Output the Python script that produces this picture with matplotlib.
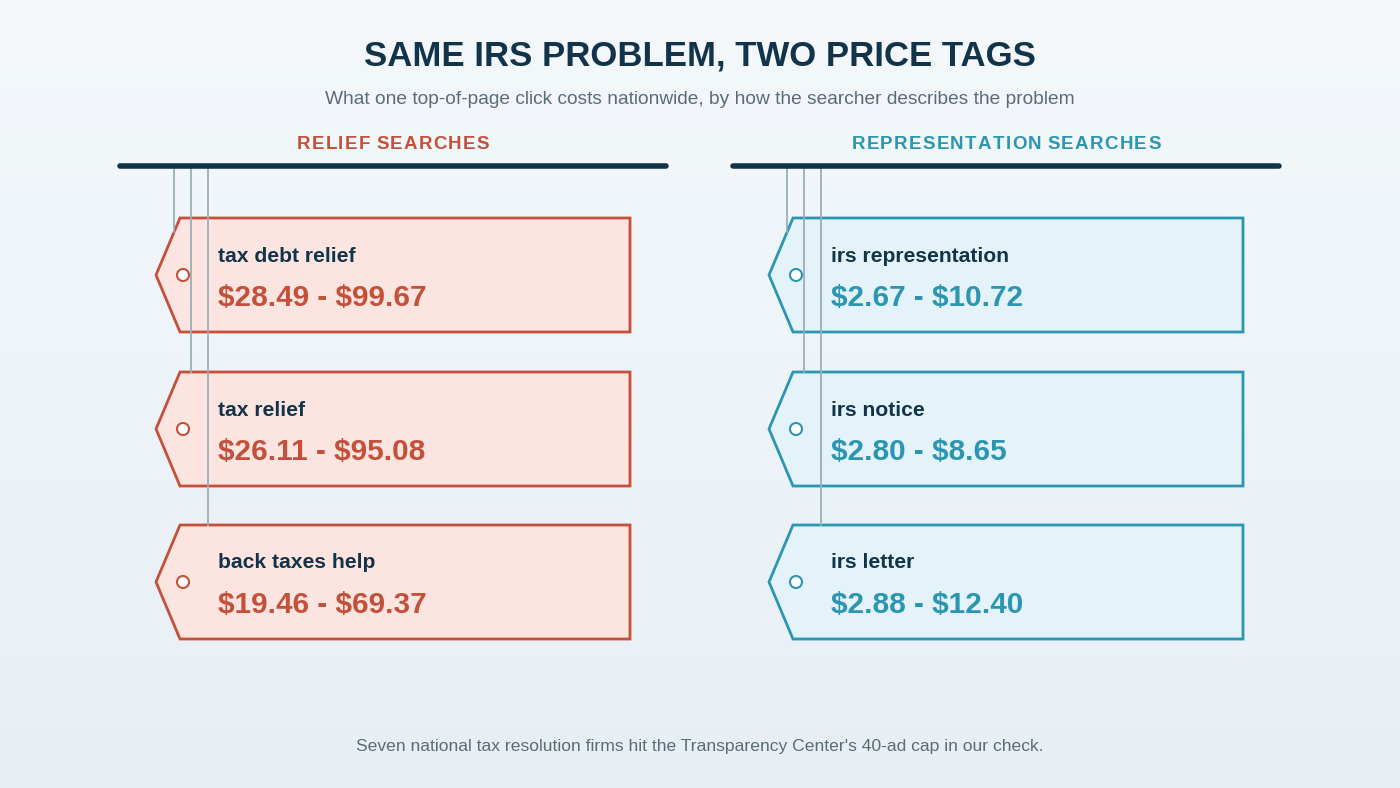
import numpy as np
import matplotlib.pyplot as plt
from matplotlib.patches import Polygon, Circle

plt.rcParams['font.family'] = ['Liberation Sans', 'DejaVu Sans']
plt.rcParams['text.parse_math'] = False

# data
panel_titles = ["RELIEF SEARCHES", "REPRESENTATION SEARCHES"]
relief_terms = ["tax debt relief", "tax relief", "back taxes help"]
relief_low = [28.49, 26.11, 19.46]
relief_high = [99.67, 95.08, 69.37]
rep_terms = ["irs representation", "irs notice", "irs letter"]
rep_low = [2.67, 2.80, 2.88]
rep_high = [10.72, 8.65, 12.40]

navy = '#12344a'
red = '#c4503a'
red_fill = '#fce5e1'
teal = '#2b96b1'
teal_fill = '#e4f3f9'
string_col = '#9aaeb8'

W, H = 1400, 788
fig = plt.figure(figsize=(14, 7.88), dpi=100)
ax = fig.add_axes([0, 0, 1, 1])
ax.set_xlim(0, W)
ax.set_ylim(H, 0)
ax.axis('off')

# soft vertical background gradient
grad = np.linspace(0, 1, 256).reshape(-1, 1)
top = np.array([0xf4, 0xf8, 0xfb]) / 255
bot = np.array([0xe7, 0xef, 0xf5]) / 255
img = top + (bot - top) * grad[..., None]
ax.imshow(img, extent=[0, W, H, 0], aspect='auto', zorder=0)

ax.text(W / 2, 56, "SAME IRS PROBLEM, TWO PRICE TAGS", ha='center', va='center',
        fontsize=25, fontweight='bold', color=navy)
ax.text(W / 2, 99, "What one top-of-page click costs nationwide, by how the searcher describes the problem",
        ha='center', va='center', fontsize=13.8, color='#5b6b76')
ax.text(W / 2, 747, "Seven national tax resolution firms hit the Transparency Center's 40-ad cap in our check.",
        ha='center', va='center', fontsize=12.6, color='#5b6b76')

renderer = fig.canvas.get_renderer()


def spaced_text(xc, y, s, spacing, **kw):
    # measure each character, then lay them out with extra tracking
    widths = []
    for ch in s:
        t = ax.text(0, 0, ch if ch != ' ' else 'I', **kw)
        bb = t.get_window_extent(renderer)
        widths.append(bb.width * (0.7 if ch == ' ' else 1.0))
        t.remove()
    total = sum(widths) + spacing * (len(s) - 1)
    x = xc - total / 2
    for ch, w in zip(s, widths):
        if ch != ' ':
            ax.text(x, y, ch, ha='left', va='center', **kw)
        x += w + spacing


def draw_panel(x0, title, terms, low, high, col, fill):
    bar_l, bar_r = x0, x0 + 546
    spaced_text((bar_l + bar_r) / 2, 144, title, 1.3, fontsize=13.5, fontweight='bold', color=col)
    ax.plot([bar_l, bar_r], [166, 166], color=navy, lw=4, solid_capstyle='round', zorder=5)
    tag_tops = [218, 372, 525]
    tag_h = 114
    left = x0 + 60
    right = x0 + 510
    tip = x0 + 36
    for i, (term, lo, hi) in enumerate(zip(terms, low, high)):
        t = tag_tops[i]
        cy = t + tag_h / 2
        poly = Polygon([[tip, cy], [left, t], [right, t], [right, t + tag_h], [left, t + tag_h]],
                       closed=True, facecolor=fill, edgecolor=col, lw=2, zorder=2, joinstyle='miter')
        ax.add_patch(poly)
        ax.add_patch(Circle((x0 + 63, cy), 6, facecolor='white', edgecolor=col, lw=1.5, zorder=6))
        ax.text(x0 + 98, t + 38, term, ha='left', va='center', fontsize=15.2,
                fontweight='bold', color=navy, zorder=6)
        ax.text(x0 + 98, t + 80, f"${lo:.2f} - ${hi:.2f}", ha='left', va='center', fontsize=21.4,
                fontweight='bold', color=col, zorder=6)
        # hanging string
        sx = x0 + 54 + 17 * i
        if i == 0:
            end = t + (left - sx) / (left - tip) * (tag_h / 2)
        else:
            end = t
        ax.plot([sx, sx], [166, end], color=string_col, lw=1.3, zorder=4)


draw_panel(120, panel_titles[0], relief_terms, relief_low, relief_high, red, red_fill)
draw_panel(733, panel_titles[1], rep_terms, rep_low, rep_high, teal, teal_fill)

fig.savefig('out.png', dpi=100)
